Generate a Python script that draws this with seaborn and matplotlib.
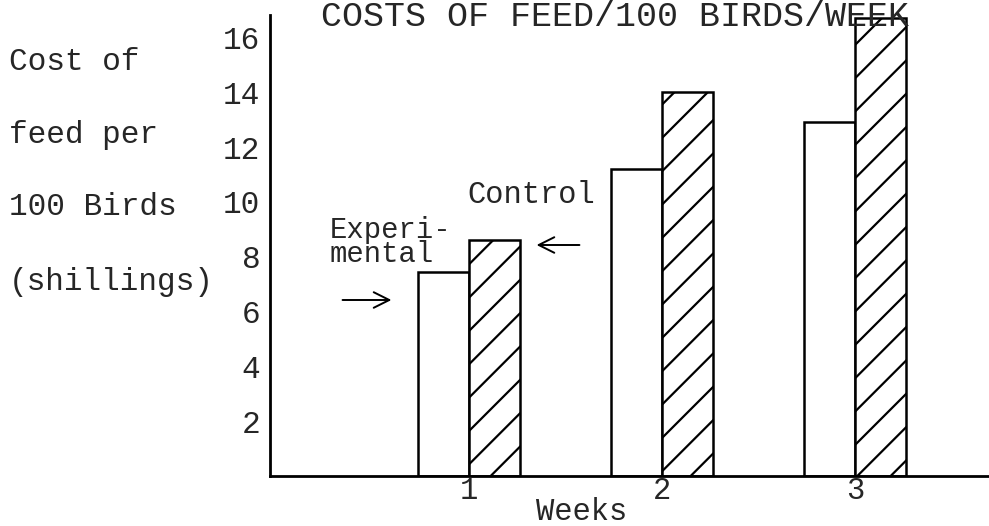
import pandas as pd
import matplotlib
matplotlib.use('Agg')
import matplotlib.pyplot as plt
import seaborn as sns

# data (shillings per 100 birds)
weeks = [1, 2, 3]
experimental = [7.45, 11.2, 12.9]
control = [8.6, 14.0, 16.7]
groups = ['Experimental', 'Control']
y_ticks = [2, 4, 6, 8, 10, 12, 14, 16]

df = pd.DataFrame({
    'week': weeks * 2,
    'cost': experimental + control,
    'group': [groups[0]] * 3 + [groups[1]] * 3,
})

sns.set_style('white')
plt.rcParams['font.family'] = ['Liberation Mono', 'DejaVu Sans Mono']
plt.rcParams['hatch.linewidth'] = 0.8

# dpi 200 so the hatch lines come out as sparse as in the scan
fig = plt.figure(figsize=(4.945, 2.63), dpi=200)
ax = fig.add_axes([270 / 989, 1 - 476 / 526, 719 / 989, 461 / 526])

sns.barplot(data=df, x='week', y='cost', hue='group', hue_order=groups,
            native_scale=True, width=0.53, palette=['white', 'white'],
            saturation=1, edgecolor='black', linewidth=0.9, legend=False, ax=ax)

for bar in ax.containers[1]:
    bar.set_hatch('//')

ax.set_xlim(-0.03, 3.694)
ax.set_ylim(0, 16.82)
ax.set_xticks(weeks)
ax.set_xticklabels([str(w) for w in weeks])
ax.set_yticks(y_ticks)
ax.set_yticklabels([str(v) for v in y_ticks])
ax.tick_params(axis='x', length=0, pad=0, labelsize=11)
ax.tick_params(axis='y', direction='in', length=2.2, width=1, pad=3.5, labelsize=11.2)

for side in ['top', 'right']:
    ax.spines[side].set_visible(False)
for side in ['left', 'bottom']:
    ax.spines[side].set_linewidth(1.0)
    ax.spines[side].set_color('black')

ax.set_ylabel('')
ax.set_xlabel('Weeks', fontsize=11)
ax.xaxis.set_label_coords(0.434, -0.078)
ax.xaxis.label.set_va('center')

# left-hand label, typed in four lines
for txt, ypix in zip(['Cost of', 'feed per', '100 Birds', '(shillings)'], [62, 135, 207, 282]):
    fig.text(9 / 989, 1 - ypix / 526, txt, fontsize=11.2, ha='left', va='center')

fig.text(615 / 989, 1.0, 'COSTS OF FEED/100 BIRDS/WEEK', fontsize=12.6,
         ha='center', va='top')

# labels with arrows pointing at the first pair of bars
fig.text(330 / 989, 1 - 242 / 526, 'Experi-\nmental', fontsize=10.4,
         ha='left', va='center', linespacing=0.8)
fig.text(467 / 989, 1 - 195 / 526, 'Control', fontsize=11, ha='left', va='center')
ax.annotate('', xy=(397 / 989, 1 - 300 / 526), xytext=(337 / 989, 1 - 300 / 526),
            xycoords='figure fraction', textcoords='figure fraction',
            arrowprops=dict(arrowstyle='->', lw=0.7, color='black', mutation_scale=14))
ax.annotate('', xy=(531 / 989, 1 - 245 / 526), xytext=(585 / 989, 1 - 245 / 526),
            xycoords='figure fraction', textcoords='figure fraction',
            arrowprops=dict(arrowstyle='->', lw=0.7, color='black', mutation_scale=14))

fig.savefig('out.png', dpi=200)
